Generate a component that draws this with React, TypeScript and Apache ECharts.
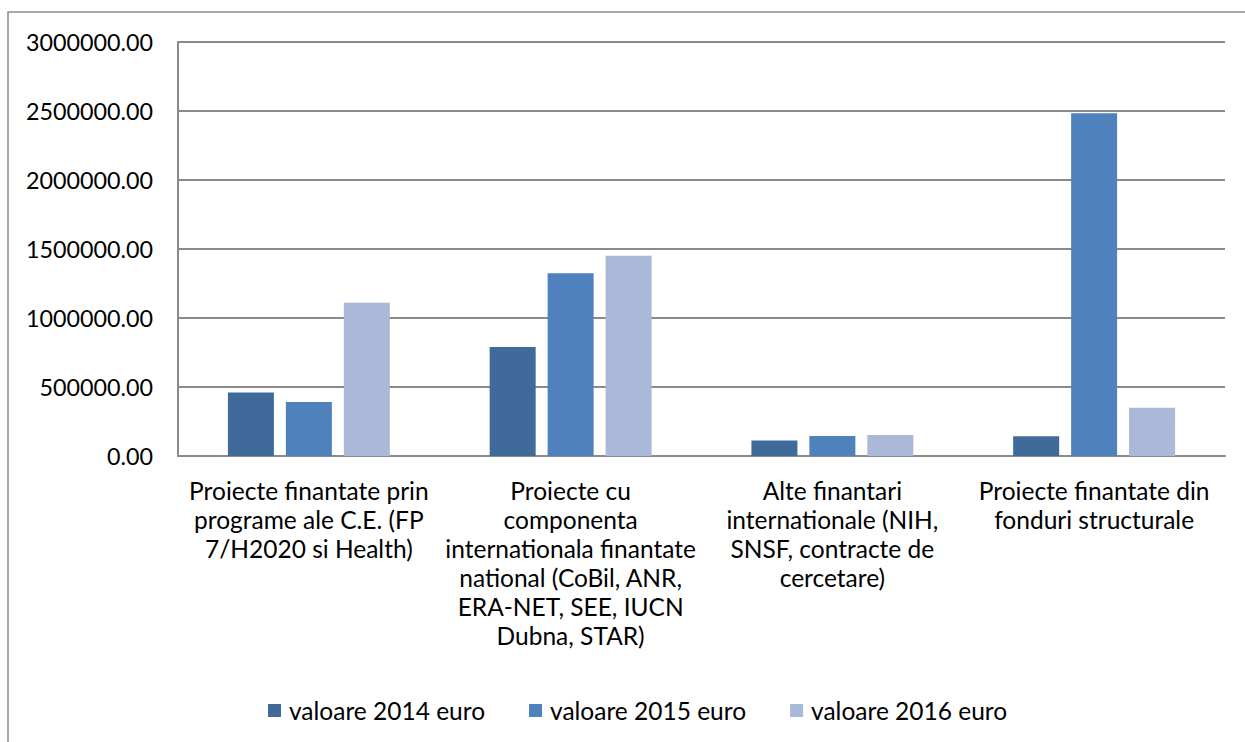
import React, { useEffect, useRef } from "react";
import * as echarts from "echarts";

const categories = [
  "Proiecte finantate prin\nprograme ale C.E. (FP\n7/H2020 si Health)",
  "Proiecte cu\ncomponenta\ninternationala finantate\nnational (CoBil, ANR,\nERA-NET, SEE, IUCN\nDubna, STAR)",
  "Alte finantari\ninternationale (NIH,\nSNSF, contracte de\ncercetare)",
  "Proiecte finantate din\nfonduri structurale",
];
const seriesNames = ["valoare 2014 euro", "valoare 2015 euro", "valoare 2016 euro"];
const values2014 = [460000, 790000, 113000, 143000];
const values2015 = [391000, 1324000, 145000, 2483000];
const values2016 = [1111000, 1451000, 152000, 350000];
const colors = ["#3F6A9A", "#4F81BD", "#AAB9D7"];

const FONT = "Lato, 'Open Sans', sans-serif";

export default function App() {
  const ref = useRef<HTMLDivElement>(null);
  useEffect(() => {
    if (!ref.current) return;
    const chart = echarts.init(ref.current, null, { renderer: "svg" });
    const data = [values2014, values2015, values2016];
    chart.setOption({
      animation: false,
      backgroundColor: "#ffffff",
      textStyle: { fontFamily: FONT },
      graphic: [
        {
          type: "rect",
          shape: { x: 8, y: 12, width: 1300, height: 800 },
          style: { fill: "none", stroke: "#8a8a8a", lineWidth: 1.5 },
          silent: true,
        },
      ],
      grid: { left: 178, right: 20, top: 42, bottom: 286, containLabel: false },
      legend: {
        left: 263,
        top: 693,
        itemWidth: 13,
        itemHeight: 13,
        itemGap: 44,
        icon: "rect",
        textStyle: { fontSize: 24.5, color: "#000", fontFamily: FONT, padding: [0, 0, 0, 3] },
        data: seriesNames,
      },
      xAxis: {
        type: "category",
        data: categories,
        axisLine: { show: true, lineStyle: { color: "#8a8a8a", width: 2 } },
        axisTick: { show: false },
        axisLabel: {
          interval: 0,
          margin: 20,
          fontSize: 24.5,
          lineHeight: 29,
          color: "#000",
          fontFamily: FONT,
          align: "center",
          verticalAlign: "top",
        },
      },
      yAxis: {
        type: "value",
        min: 0,
        max: 3000000,
        interval: 500000,
        axisLine: { show: true, lineStyle: { color: "#8a8a8a", width: 2 } },
        axisTick: { show: false },
        splitLine: { show: true, lineStyle: { color: "#8a8a8a", width: 2 } },
        axisLabel: {
          margin: 25,
          fontSize: 23.3,
          color: "#000",
          fontFamily: FONT,
          formatter: (v: number) => v.toFixed(2),
        },
      },
      series: seriesNames.map((name, i) => ({
        name,
        type: "bar",
        data: data[i],
        barWidth: 46,
        barGap: "26%",
        itemStyle: { color: colors[i] },
      })),
    });
    return () => chart.dispose();
  }, []);
  return (
    <div
      ref={ref}
      style={{ position: "fixed", left: 0, top: 0, width: 1245, height: 742 }}
    />
  );
}
